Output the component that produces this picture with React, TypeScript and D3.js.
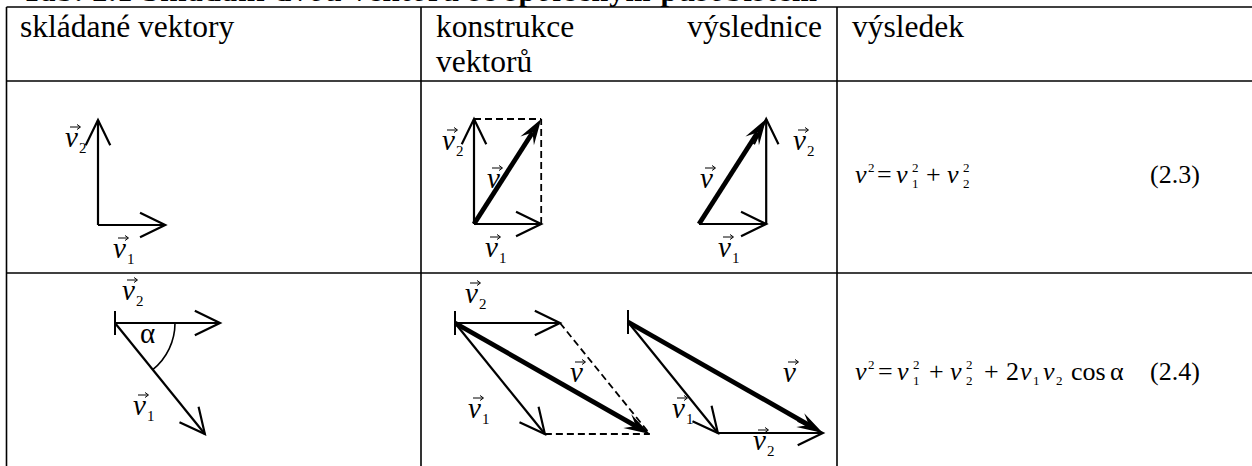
import React from 'react';
import * as d3 from 'd3';

// table text
const headers = ['skládané vektory', 'konstrukce', 'výslednice', 'vektorů', 'výsledek'];
const title = 'Tab. 2.1 Skládání dvou vektorů se společným působištěm';

// the two cases (magnitudes in arbitrary units, angles in degrees from +x, counterclockwise)
const v1Magnitude = [3.2, 6.8];
const v2Magnitude = [5.0, 5.0];
const v1Angle = [0, -51];
const v2Angle = [90, 0];
const equationNumbers = ['(2.3)', '(2.4)'];

const W = 1252;
const H = 466;
const FONT = 'Liberation Serif';

const len = d3.scaleLinear().domain([0, 1]).range([0, 21]);

type Pt = [number, number];

const vec = (m: number, deg: number): Pt => {
  const a = (deg * Math.PI) / 180;
  return [len(m) * Math.cos(a), -len(m) * Math.sin(a)];
};
const add = (a: Pt, b: Pt): Pt => [a[0] + b[0], a[1] + b[1]];

const line = d3.line<Pt>();

const Arrow = ({ from, to, thick }: { from: Pt; to: Pt; thick?: boolean }) => {
  const dx = to[0] - from[0];
  const dy = to[1] - from[1];
  const L = Math.hypot(dx, dy);
  const u: Pt = [dx / L, dy / L];
  const n: Pt = [-u[1], u[0]];
  if (thick) {
    const back: Pt = [to[0] - 16 * u[0], to[1] - 16 * u[1]];
    const head: Pt[] = [
      to,
      [to[0] - 26 * u[0] + 8 * n[0], to[1] - 26 * u[1] + 8 * n[1]],
      back,
      [to[0] - 26 * u[0] - 8 * n[0], to[1] - 26 * u[1] - 8 * n[1]],
    ];
    return (
      <g>
        <path d={line([from, back]) as string} stroke="#000" strokeWidth={4.8} fill="none" />
        <path d={(line(head) as string) + 'Z'} fill="#000" />
      </g>
    );
  }
  const a = 28 * Math.cos((26 * Math.PI) / 180);
  const b = 28 * Math.sin((26 * Math.PI) / 180);
  const arms: Pt[] = [
    [to[0] - a * u[0] + b * n[0], to[1] - a * u[1] + b * n[1]],
    to,
    [to[0] - a * u[0] - b * n[0], to[1] - a * u[1] - b * n[1]],
  ];
  return (
    <g fill="none" stroke="#000" strokeWidth={2.2} strokeLinejoin="miter">
      <path d={line([from, to]) as string} />
      <path d={line(arms) as string} />
    </g>
  );
};

const Dashed = ({ from, to }: { from: Pt; to: Pt }) => (
  <path d={line([from, to]) as string} stroke="#000" strokeWidth={1.8} strokeDasharray="7 4" fill="none" />
);

const Tick = ({ at }: { at: Pt }) => (
  <path d={line([[at[0], at[1] - 12], [at[0], at[1] + 12]]) as string} stroke="#000" strokeWidth={2} />
);

// italic v with arrow above and optional subscript
const VLabel = ({ x, y, sub }: { x: number; y: number; sub?: string }) => (
  <g>
    <text x={x} y={y} fontStyle="italic" fontSize={29}>v</text>
    <path d={`M${x + 5},${y - 20}H${x + 15}`} stroke="#000" strokeWidth={1} />
    <path d={`M${x + 12},${y - 22.5}L${x + 15.5},${y - 20}L${x + 12},${y - 17.5}`} stroke="#000" strokeWidth={1} fill="none" />
    {sub && (
      <text x={x + 14} y={y + 6} fontSize={15}>{sub}</text>
    )}
  </g>
);

const T = ({ x, y, s, italic, size = 26 }: { x: number; y: number; s: string; italic?: boolean; size?: number }) => (
  <text x={x} y={y} fontStyle={italic ? 'italic' : undefined} fontSize={size}>{s}</text>
);

const Stack = ({ x, y, sup, sub }: { x: number; y: number; sup: string; sub: string }) => (
  <g>
    <T x={x} y={y - 11} s={sup} size={13} />
    <T x={x} y={y + 5} s={sub} size={13} />
  </g>
);

export default function App() {
  // case 1 (perpendicular)
  const a1 = vec(v1Magnitude[0], v1Angle[0]);
  const a2 = vec(v2Magnitude[0], v2Angle[0]);
  // case 2 (general angle)
  const b1 = vec(v1Magnitude[1], v1Angle[1]);
  const b2 = vec(v2Magnitude[1], v2Angle[1]);

  const o1: Pt = [98, 225];
  const oA: Pt = [474, 224];
  const oB: Pt = [699, 224];
  const o2: Pt = [115, 323];
  const oC: Pt = [455, 323];
  const oD: Pt = [628, 322];

  const arcR = 60;
  const arc = d3.path();
  arc.arc(o2[0], o2[1], arcR, 0, (-v1Angle[1] * Math.PI) / 180, false);

  const yHead = 81;
  const yRow = 273;
  const cols = [6.5, 421, 837];

  return (
    <svg width={W} height={H} fontFamily={FONT} style={{ position: 'fixed', left: 0, top: 0, background: '#fff', fontFamily: FONT }}>
      <rect width={W} height={H} fill="#fff" />

      {/* caption above the table, cut by the top edge */}
      <text x={22} y={1} fontWeight="bold" fontSize={30} textLength={795} lengthAdjust="spacing">{title}</text>

      {/* headers */}
      <text x={20} y={37} fontSize={31.5}>{headers[0]}</text>
      <text x={436} y={37} fontSize={31.5}>{headers[1]}</text>
      <text x={822} y={37} fontSize={31.5} textAnchor="end">{headers[2]}</text>
      <text x={436} y={72} fontSize={31.5}>{headers[3]}</text>
      <text x={852} y={37} fontSize={31.5}>{headers[4]}</text>

      {/* grid */}
      <g stroke="#000" strokeWidth={1.6}>
        <line x1={cols[0]} x2={W} y1={7} y2={7} />
        <line x1={cols[0]} x2={W} y1={yHead} y2={yHead} />
        <line x1={cols[0]} x2={W} y1={yRow} y2={yRow} />
        {cols.map(c => (
          <line key={c} x1={c} x2={c} y1={7} y2={H} />
        ))}
      </g>

      {/* formulas */}
      <g>
        <T x={855} y={183} s="v" italic />
        <T x={868} y={172} s="2" size={13} />
        <T x={877} y={183} s="=" />
        <T x={896} y={183} s="v" italic />
        <Stack x={912} y={183} sup="2" sub="1" />
        <T x={926} y={183} s="+" />
        <T x={947} y={183} s="v" italic />
        <Stack x={963} y={183} sup="2" sub="2" />
        <T x={1150} y={183} s={equationNumbers[0]} />
      </g>
      <g>
        <T x={855} y={380} s="v" italic />
        <T x={868} y={369} s="2" size={13} />
        <T x={878} y={380} s="=" />
        <T x={897} y={380} s="v" italic />
        <Stack x={913} y={380} sup="2" sub="1" />
        <T x={929} y={380} s="+" />
        <T x={950} y={380} s="v" italic />
        <Stack x={966} y={380} sup="2" sub="2" />
        <T x={984} y={380} s="+" />
        <T x={1006} y={380} s="2" />
        <T x={1020} y={380} s="v" italic />
        <T x={1033} y={385} s="1" size={13} />
        <T x={1043} y={380} s="v" italic />
        <T x={1056} y={385} s="2" size={13} />
        <T x={1071} y={380} s="cos" />
        <T x={1110} y={380} s="α" />
        <T x={1150} y={380} s={equationNumbers[1]} />
      </g>

      {/* row 1, column 1 */}
      <Arrow from={o1} to={add(o1, a2)} />
      <Arrow from={o1} to={add(o1, a1)} />
      <VLabel x={65} y={147} sub="2" />
      <VLabel x={113} y={258} sub="1" />

      {/* row 1, parallelogram */}
      <Dashed from={add(oA, a2)} to={add(oA, add(a1, a2))} />
      <Dashed from={add(oA, a1)} to={add(oA, add(a1, a2))} />
      <Arrow from={oA} to={add(oA, a2)} />
      <Arrow from={oA} to={add(oA, a1)} />
      <Arrow from={oA} to={add(oA, add(a1, a2))} thick />
      <VLabel x={442} y={150} sub="2" />
      <VLabel x={487} y={188} />
      <VLabel x={485} y={257} sub="1" />

      {/* row 1, triangle */}
      <Arrow from={oB} to={add(oB, a1)} />
      <Arrow from={add(oB, a1)} to={add(oB, add(a1, a2))} />
      <Arrow from={oB} to={add(oB, add(a1, a2))} thick />
      <VLabel x={700} y={188} />
      <VLabel x={793} y={150} sub="2" />
      <VLabel x={718} y={257} sub="1" />

      {/* row 2, column 1 */}
      <Tick at={o2} />
      <Arrow from={o2} to={add(o2, b2)} />
      <Arrow from={o2} to={add(o2, b1)} />
      <path d={arc.toString()} stroke="#000" strokeWidth={1.6} fill="none" />
      <text x={140} y={343} fontSize={29}>α</text>
      <VLabel x={122} y={300} sub="2" />
      <VLabel x={133} y={415} sub="1" />

      {/* row 2, parallelogram */}
      <Dashed from={add(oC, b2)} to={add(oC, add(b1, b2))} />
      <Dashed from={add(oC, b1)} to={add(oC, add(b1, b2))} />
      <Tick at={oC} />
      <Arrow from={oC} to={add(oC, b2)} />
      <Arrow from={oC} to={add(oC, b1)} />
      <Arrow from={oC} to={add(oC, add(b1, b2))} thick />
      <VLabel x={465} y={303} sub="2" />
      <VLabel x={570} y={382} />
      <VLabel x={468} y={418} sub="1" />

      {/* row 2, triangle */}
      <Tick at={oD} />
      <Arrow from={oD} to={add(oD, b1)} />
      <Arrow from={add(oD, b1)} to={add(oD, add(b1, b2))} />
      <Arrow from={oD} to={add(oD, add(b1, b2))} thick />
      <VLabel x={783} y={382} />
      <VLabel x={672} y={418} sub="1" />
      <VLabel x={753} y={450} sub="2" />
    </svg>
  );
}
